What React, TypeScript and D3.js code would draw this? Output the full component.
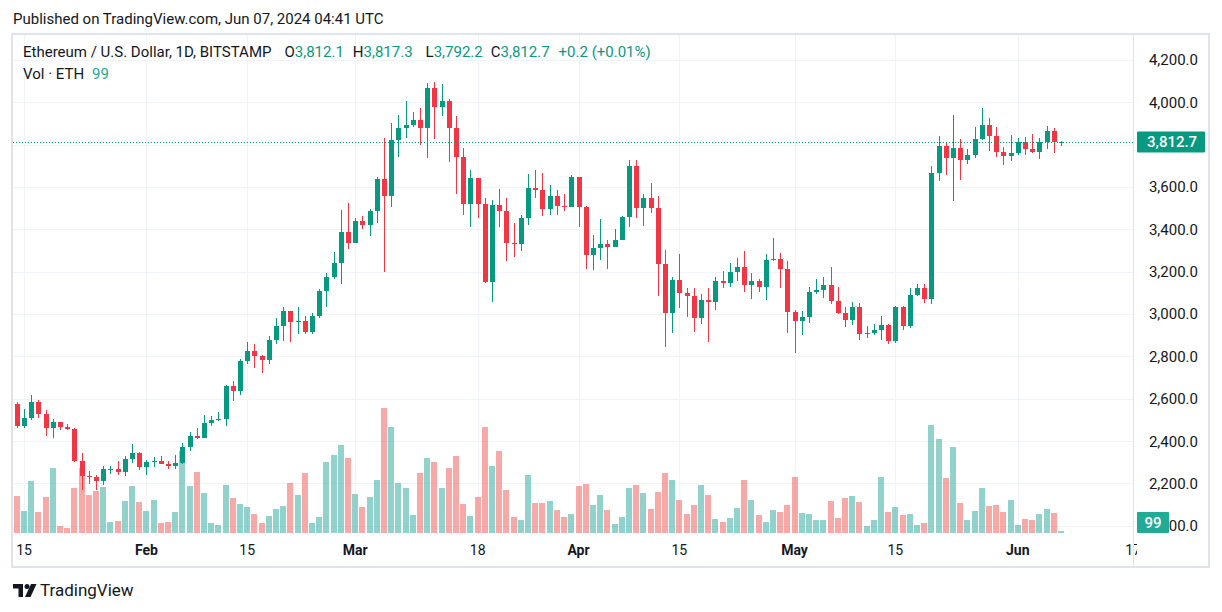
import React from 'react'
import * as d3 from 'd3'

// ETH/USD daily, Bitstamp, 2024-01-14 .. 2024-06-07
const firstDay = '2024-01-14'

const opens = [
  // Jan 14-31
  2577, 2470, 2509, 2586, 2526, 2463, 2489, 2468, 2455, 2304, 2234, 2229, 2210, 2266, 2269, 2254, 2317, 2342,
  // Feb
  2280, 2301, 2304, 2291, 2282, 2295, 2371, 2423, 2413, 2485, 2499, 2506, 2660, 2636, 2779, 2826, 2800, 2783,
  2878, 2945, 3016, 2964, 2968, 2916, 2990, 3111, 3177, 3243, 3386,
  // Mar
  3338, 3438, 3419, 3488, 3636, 3556, 3822, 3878, 3892, 3916, 3878, 4068, 3978, 4008, 3880, 3741, 3518, 3643,
  3520, 3153, 3515, 3489, 3335, 3331, 3456, 3594, 3587, 3494, 3560, 3509, 3504,
  // Apr
  3646, 3504, 3278, 3314, 3330, 3316, 3352, 3457, 3698, 3502, 3549, 3503, 3237, 3006, 3159, 3099, 3085, 2981,
  3067, 3055, 3158, 3146, 3200, 3220, 3135, 3155, 3127, 3256, 3262, 3213,
  // May
  3010, 2965, 2987, 3104, 3116, 3139, 3061, 3003, 2970, 3035, 2905, 2910, 2927, 2950, 2875, 3035, 2942, 3092,
  3124, 3069, 3667, 3793, 3736, 3783, 3726, 3750, 3826, 3893, 3842, 3764, 3745,
  // Jun
  3761, 3813, 3778, 3766, 3811, 3866, 3812.1,
]

const highs = [
  2585, 2552, 2616, 2593, 2548, 2505, 2492, 2481, 2462, 2345, 2261, 2239, 2282, 2282, 2304, 2330, 2388, 2349,
  2309, 2323, 2328, 2306, 2333, 2390, 2442, 2460, 2523, 2518, 2537, 2665, 2684, 2788, 2869, 2859, 2807, 2897,
  2983, 3035, 3016, 3035, 2992, 3006, 3120, 3196, 3291, 3490, 3523,
  3452, 3462, 3495, 3647, 3832, 3903, 3940, 4006, 3954, 3973, 4092, 4096, 4087, 4016, 3935, 3783, 3679, 3643,
  3546, 3537, 3589, 3546, 3432, 3470, 3660, 3679, 3665, 3608, 3584, 3565, 3655,
  3646, 3511, 3373, 3449, 3349, 3402, 3463, 3730, 3730, 3568, 3621, 3559, 3302, 3173, 3283, 3125, 3121, 3097,
  3125, 3173, 3202, 3240, 3264, 3297, 3192, 3168, 3283, 3359, 3287, 3249,
  3021, 3016, 3130, 3168, 3173, 3221, 3130, 3035, 3059, 3054, 2944, 2954, 2992, 2952, 3040, 3040, 3121, 3144,
  3140, 3697, 3842, 3809, 3940, 3827, 3780, 3884, 3973, 3926, 3884, 3790, 3846,
  3832, 3837, 3851, 3832, 3889, 3879, 3817.3,
]

const lows = [
  2462, 2462, 2500, 2508, 2425, 2415, 2454, 2452, 2301, 2170, 2197, 2170, 2194, 2247, 2239, 2234, 2298, 2263,
  2239, 2277, 2291, 2267, 2267, 2291, 2355, 2410, 2413, 2470, 2494, 2472, 2589, 2617, 2764, 2745, 2722, 2764,
  2859, 2874, 2869, 2907, 2907, 2907, 2983, 3035, 3168, 3144, 3305,
  3338, 3400, 3367, 3428, 3201, 3504, 3741, 3831, 3883, 3797, 3736, 3826, 3935, 3717, 3565, 3466, 3413, 3456,
  3148, 3058, 3413, 3252, 3271, 3300, 3423, 3546, 3461, 3466, 3470, 3489, 3504,
  3413, 3214, 3206, 3254, 3211, 3316, 3349, 3411, 3454, 3416, 3478, 3087, 2844, 2911, 3030, 2987, 2916, 2954,
  2868, 3021, 3121, 3130, 3154, 3106, 3073, 3102, 3068, 3249, 3121, 2911,
  2816, 2900, 2959, 3097, 3078, 3049, 3002, 2940, 2949, 2878, 2887, 2901, 2878, 2859, 2863, 2925, 2935, 3087,
  3054, 3049, 3630, 3658, 3536, 3635, 3710, 3738, 3823, 3771, 3743, 3705, 3724,
  3752, 3752, 3762, 3733, 3780, 3762, 3792.2,
]

const closes = [
  2470, 2509, 2586, 2526, 2463, 2489, 2468, 2455, 2304, 2234, 2229, 2210, 2266, 2269, 2254, 2317, 2342, 2280,
  2301, 2304, 2291, 2282, 2295, 2371, 2423, 2413, 2485, 2499, 2506, 2660, 2636, 2779, 2826, 2800, 2783, 2878,
  2945, 3016, 2964, 2968, 2916, 2990, 3111, 3177, 3243, 3386, 3338,
  3438, 3419, 3488, 3636, 3556, 3822, 3878, 3892, 3916, 3878, 4068, 3978, 4008, 3880, 3741, 3518, 3643, 3520,
  3153, 3515, 3489, 3335, 3331, 3456, 3594, 3587, 3494, 3560, 3509, 3504, 3646,
  3504, 3278, 3314, 3330, 3316, 3352, 3457, 3698, 3502, 3549, 3503, 3237, 3006, 3159, 3099, 3085, 2981, 3067,
  3055, 3158, 3146, 3200, 3220, 3135, 3155, 3127, 3256, 3262, 3213, 3010,
  2965, 2987, 3104, 3116, 3139, 3061, 3003, 2970, 3035, 2905, 2910, 2927, 2950, 2875, 3035, 2942, 3092, 3124,
  3069, 3667, 3793, 3736, 3783, 3726, 3750, 3826, 3893, 3842, 3764, 3745, 3761,
  3813, 3778, 3766, 3811, 3866, 3812.5, 3812.7,
]

// volume in ETH
const volumes = [
  2040, 1210, 2860, 1160, 1980, 3580, 390, 280, 2480, 3580, 2090, 2310, 2530, 610, 660, 1760, 2590, 1710,
  1210, 1820, 550, 610, 1160, 4510, 2590, 3360, 2200, 550, 440, 2640, 1930, 1600, 1430, 1050, 550, 940,
  1320, 1490, 2750, 2090, 3300, 550, 880, 3910, 4290, 4840, 4130,
  2150, 1430, 1980, 2920, 6880, 5830, 2750, 2480, 990, 3300, 4130, 3910, 2480, 3580, 4240, 1600, 940, 1980,
  5830, 3690, 4510, 2370, 880, 720, 3190, 1650, 1650, 1760, 1270, 880, 1050,
  2590, 2700, 1540, 2090, 1270, 500, 880, 2480, 2640, 2200, 1320, 2260, 3300, 2920, 1820, 1050, 1540, 2640,
  2090, 770, 610, 830, 1380, 2920, 1820, 990, 610, 1270, 1160, 1540,
  3080, 1100, 1050, 720, 720, 1760, 830, 1930, 2040, 1710, 390, 720, 3080, 1160, 1430, 990, 1050, 440,
  550, 5940, 5170, 3030, 4730, 1650, 720, 1210, 2480, 1490, 1540, 1160, 1820,
  440, 770, 720, 1050, 1320, 1100, 99,
]

const tickDays = ['2024-01-15', '2024-02-01', '2024-02-15', '2024-03-01', '2024-03-18', '2024-04-01',
  '2024-04-15', '2024-05-01', '2024-05-15', '2024-06-01', '2024-06-17']
const tickLabels = ['15', 'Feb', '15', 'Mar', '18', 'Apr', '15', 'May', '15', 'Jun', '17']
const priceTicks = [2000, 2200, 2400, 2600, 2800, 3000, 3200, 3400, 3600, 3800, 4000, 4200]

const UP = '#089981'
const DOWN = '#f23645'
const VOL_UP = 'rgba(38,166,154,0.5)'
const VOL_DOWN = 'rgba(239,83,80,0.5)'
const TEXT = '#131722'
const GRID = '#f0f3fa'
const BORDER = '#e0e3eb'
const FONT = 'Roboto, "Noto Sans", sans-serif'

const W = 1222
const H = 612
const plot = { left: 13, right: 1133, top: 35, bottom: 535 }

const parse = d3.utcParse('%Y-%m-%d')
const start = parse(firstDay) as Date
const days = closes.map((_, i) => d3.utcDay.offset(start, i))

const x = d3.scaleUtc()
  .domain([parse('2024-01-15') as Date, parse('2024-06-17') as Date])
  .range([24, 1133])
const y = d3.scaleLinear().domain([2000, 4200]).range([525.8, 60])
const yVol = d3.scaleLinear().domain([0, d3.max(volumes) as number]).range([533, 408])

const fmt = d3.format(',.1f')

const TVLogo = () => (
  <g fill={TEXT}>
    <path d='M13 584 h10 v13 h-4.5 v-8.5 h-5.5 z' />
    <circle cx={27} cy={586.5} r={2.5} />
    <path d='M31 584 h5.5 l-6 13 h-5.5 z' />
  </g>
)

export default function App() {
  const n = closes.length
  const last = n - 1
  const change = closes[last] - closes[last - 1]
  const pct = (change / closes[last - 1]) * 100
  const sign = change >= 0 ? '+' : '−'
  const lastUp = closes[last] >= opens[last]
  const priceY = y(closes[last])
  const volY = Math.min(yVol(volumes[last]), yVol(0) - 10.5)

  return (
    <div style={{ position: 'absolute', left: 0, top: 0 }}>
      <svg width={W} height={H} viewBox={`0 0 ${W} ${H}`} style={{ display: 'block', background: '#fff' }}
        fontFamily={FONT}>
        <rect width={W} height={H} fill='#fff' />
        <text x={13} y={24} fontSize={15} fill={TEXT}>Published on TradingView.com, Jun 07, 2024 04:41 UTC</text>

        <defs>
          <clipPath id='plot'>
            <rect x={plot.left} y={plot.top} width={plot.right - plot.left} height={plot.bottom - plot.top} />
          </clipPath>
        </defs>

        {/* grid */}
        <g shapeRendering='crispEdges'>
          {priceTicks.map(p => (
            <line key={p} x1={plot.left} x2={plot.right} y1={Math.round(y(p)) + 0.5} y2={Math.round(y(p)) + 0.5}
              stroke={GRID} />
          ))}
          {tickDays.map(d => {
            const xx = Math.round(x(parse(d) as Date)) + 0.5
            return <line key={d} x1={xx} x2={xx} y1={plot.top} y2={plot.bottom} stroke={GRID} />
          })}
        </g>

        <g clipPath='url(#plot)' shapeRendering='crispEdges'>
          {/* volume */}
          {days.map((d, i) => {
            const cx = Math.round(x(d))
            const top = Math.min(yVol(volumes[i]), yVol(0) - 2)
            return (
              <rect key={'v' + i} x={cx - 3} width={6} y={top} height={yVol(0) - top}
                fill={closes[i] >= opens[i] ? VOL_UP : VOL_DOWN} />
            )
          })}
          {/* candles */}
          {days.map((d, i) => {
            const cx = Math.round(x(d))
            const up = closes[i] >= opens[i]
            const col = up ? UP : DOWN
            const bTop = y(Math.max(opens[i], closes[i]))
            const bBot = y(Math.min(opens[i], closes[i]))
            return (
              <g key={'c' + i} fill={col}>
                <rect x={cx} width={1} y={y(highs[i])} height={y(lows[i]) - y(highs[i])} />
                <rect x={cx - 2} width={5} y={bTop} height={Math.max(1, bBot - bTop)} />
              </g>
            )
          })}
        </g>

        {/* last price line */}
        <line x1={plot.left} x2={plot.right} y1={Math.round(priceY) + 0.5} y2={Math.round(priceY) + 0.5}
          stroke={lastUp ? UP : DOWN} strokeDasharray='1 2' />

        {/* legend */}
        <text x={23} y={57} fontSize={15} fill={TEXT}>
          Ethereum / U.S. Dollar, 1D, BITSTAMP
          <tspan dx={13}>O</tspan><tspan fill={UP}>{fmt(opens[last])}</tspan>
          <tspan dx={9}>H</tspan><tspan fill={UP}>{fmt(highs[last])}</tspan>
          <tspan dx={13}>L</tspan><tspan fill={UP}>{fmt(lows[last])}</tspan>
          <tspan dx={8}>C</tspan><tspan fill={UP}>{fmt(closes[last])}</tspan>
          <tspan dx={9} fill={UP}>{`${sign}${fmt(Math.abs(change))} (${sign}${Math.abs(pct).toFixed(2)}%)`}</tspan>
        </text>
        <text x={23} y={79} fontSize={15} fill={TEXT}>
          Vol · ETH<tspan dx={8} fill='#22ab94'>{d3.format(',')(volumes[last])}</tspan>
        </text>

        {/* time axis */}
        {tickDays.map((d, i) => (
          <text key={'t' + d} x={x(parse(d) as Date)} y={555} fontSize={14} textAnchor='middle' fill={TEXT}
            fontWeight={/^[A-Z]/.test(tickLabels[i]) ? 700 : 400}>{tickLabels[i]}</text>
        ))}

        {/* price axis */}
        <rect x={1137} y={plot.top} width={1208 - 1137} height={531} fill='#fff' />
        {priceTicks.filter(p => p !== 3800).map(p => (
          <text key={'p' + p} x={1198} y={y(p)} dy='0.36em' fontSize={15} textAnchor='end' fill={TEXT}>
            {fmt(p)}
          </text>
        ))}
        <rect x={1137} y={priceY - 10.5} width={68} height={21} fill={lastUp ? UP : DOWN} rx={1} />
        <text x={1147} y={priceY} dy='0.36em' fontSize={15} fill='#fff' fontWeight={500}>{fmt(closes[last])}</text>
        <rect x={1137} y={volY - 10.5} width={32} height={21} fill='#22ab94' rx={1} />
        <text x={1153} y={volY} dy='0.36em' fontSize={15} fill='#fff' fontWeight={500} textAnchor='middle'>
          {volumes[last]}
        </text>

        {/* frame */}
        <g shapeRendering='crispEdges' fill='none' stroke={BORDER}>
          <rect x={12} y={34} width={1197} height={533} strokeWidth={2} />
          <line x1={plot.right + 0.5} x2={plot.right + 0.5} y1={34} y2={567} />
        </g>

        {/* footer */}
        <TVLogo />
        <text x={40} y={596} fontSize={17} fill={TEXT}>TradingView</text>
      </svg>
    </div>
  )
}
